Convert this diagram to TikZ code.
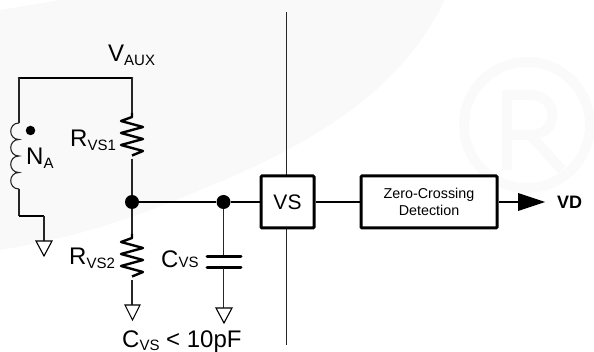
\documentclass[tikz,border=0pt]{standalone}
\usepackage{fontspec}
\setmainfont{Liberation Sans}
\newcommand{\fs}[1]{\fontsize{#1}{#1}\selectfont}
% main letter raised above the subscript base line by #3
\newcommand{\lbl}[3]{\raisebox{#3}{\fs{24}#1}{\fs{15}#2}}
\tikzset{
  wire/.style={line width=1.1pt,black!85},
  bus/.style={line width=2.8pt,black},
  sigline/.style={line width=2.6pt,black},
  blockbox/.style={draw=black,line width=3pt,rounded corners=1pt,fill=white,inner sep=0pt,align=center},
  dot/.style={circle,fill=black,inner sep=0pt,minimum size=14pt},
  res/.style={line width=2.4pt,black,line join=round},
  gnd/.style={draw=black,line width=1.1pt,fill=white,line join=miter},
  txt/.style={inner sep=0pt,anchor=base west},
  plate/.style={line width=3pt,line cap=round}
}
\begin{document}
\begin{tikzpicture}[x=1pt,y=-1pt]
\useasboundingbox (0,0) rectangle (594,352);
% watermark
\fill[black!2.5] (0,10) -- (60,0) -- (445,0) .. controls (410,70) and (350,130) .. (200,190) .. controls (120,225) and (60,240) .. (0,250) -- cycle;
\draw[black!2,line width=10pt] (527,125) circle (63);
\draw[black!2,line width=10pt] (507,170) -- (507,95) -- (530,95) .. controls (560,95) and (560,135) .. (530,135) -- (507,135) (530,135) -- (562,170);
% coordinates
\coordinate (tl) at (19,78);
\coordinate (tr) at (132,78);
\coordinate (r1t) at (132,113);
\coordinate (r1b) at (132,159);
\coordinate (r2t) at (132,234);
\coordinate (r2b) at (132,280);
\coordinate (c1) at (223.5,257);
\coordinate (c2) at (223.5,268);
\coordinate (lt) at (19,123);
\coordinate (lb) at (19,189);
\coordinate (lk) at (19,216);
\coordinate (lg) at (44,216);
\coordinate (vt) at (286,12);
\coordinate (vb) at (286,345);
\coordinate (atip) at (545,202);
% divider
\draw[line width=.9pt,black!85] (vt) -- (vb);
% nodes
\node[blockbox,minimum width=53pt,minimum height=52pt] (vs) at (287.5,202) {\fs{21}VS};
\node[blockbox,minimum width=136pt,minimum height=52pt,font=\fontsize{14.3}{17}\selectfont] (zcd) at (429,202) {Zero-Crossing\\Detection};
\node[dot] (j1) at (132,202) {};
\node[dot] (j2) at (223.5,202) {};
% wires
\draw[bus,line cap=round] (tl) -- (tr);
\draw[wire] (tl) -- (lt);
\draw[wire] (lt)
  .. controls (8,123) and (8,139.5) .. (19,139.5)
  .. controls (8,139.5) and (8,156) .. (19,156)
  .. controls (8,156) and (8,172.5) .. (19,172.5)
  .. controls (8,172.5) and (8,189) .. (lb);
\draw[wire] (lb) -- (lk);
\draw[bus] (18.5,216) -- (lg);
\draw[wire] (44,216) -- (44,241);
\draw[gnd] (36,241) -- (52,241) -- (44,256) -- cycle;
\draw[wire] (tr) -- (r1t);
\draw[res] (r1t) -- ++(0,4) -- ++(-11,4) -- ++(22,6) -- ++(-22,6) -- ++(22,6) -- ++(-22,6) -- ++(22,6) -- ++(-11,4.5);
\draw[wire] (r1b) -- (j1);
\draw[wire] (j1) -- (r2t);
\draw[res] (r2t) -- ++(0,4) -- ++(-11,4) -- ++(22,6) -- ++(-22,6) -- ++(22,6) -- ++(-22,6) -- ++(22,6) -- ++(-11,4.5);
\draw[wire] (r2b) -- (132,305);
\draw[gnd] (125,305) -- (140,305) -- (132.5,320) -- cycle;
\draw[sigline] (j1) -- (j2) -- (vs);
\draw[sigline] (vs) -- (zcd);
\draw[wire] (j2) -- (c1);
\draw[plate] (207,257) -- (241,257);
\draw[plate] (207,268) -- (241,268);
\draw[wire] (c2) -- (223.5,308);
\draw[gnd] (216,308) -- (232,308) -- (224,323) -- cycle;
\draw[sigline] (zcd) -- (518,202);
\fill (518,193) -- (atip) -- (518,211) -- cycle;
\node[dot,minimum size=9.5pt] (d) at (30.5,130.5) {};
% labels
\node[txt] (tv) at (108,66) {\lbl{V}{AUX}{4pt}};
\node[txt] (tna) at (26,169) {\lbl{N}{A}{4pt}};
\node[txt] (tr1) at (70,151) {\lbl{R}{VS1}{4pt}};
\node[txt] (tr2) at (69,268.5) {\lbl{R}{VS2}{3.5pt}};
\node[txt] (tc) at (161,267.5) {\lbl{C}{VS}{0pt}};
\node[txt] (tc2) at (122,350) {\lbl{C}{VS}{2pt}\raisebox{2pt}{\fs{24} < 10pF}};
\node[txt] (tvd) at (557,208.5) {\fs{18}\bfseries VD};
\end{tikzpicture}
\end{document}
